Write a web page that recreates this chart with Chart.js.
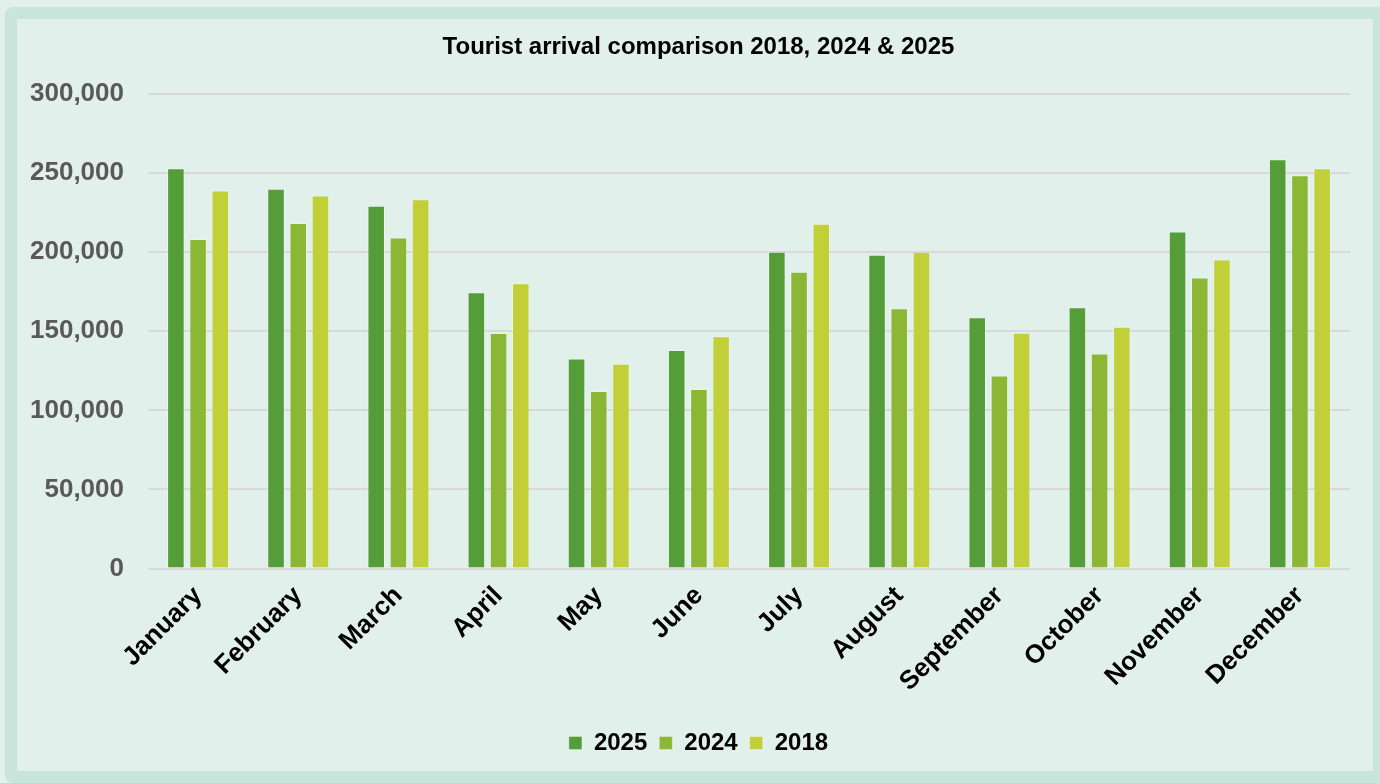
<!DOCTYPE html>
<html><head><meta charset="utf-8">
<script src="https://cdn.jsdelivr.net/npm/chart.js@4.4.1/dist/chart.umd.min.js"></script>
<style>
html,body{margin:0;padding:0;background:#e2f0eb;width:1380px;height:783px;overflow:hidden;}
#frame{position:absolute;left:5px;top:7px;width:1380px;height:776px;box-sizing:border-box;border:12px solid #c8e4db;border-radius:8px;}
#wrap{position:absolute;left:0;top:0;width:1380px;height:783px;}
</style></head><body>
<div id="frame"></div>
<div id="wrap"><canvas id="c" width="1380" height="783"></canvas></div>
<script>
const months = ['January','February','March','April','May','June','July','August','September','October','November','December'];
const seriesNames = ['2025','2024','2018'];
const v2025 = [253000,240100,229300,174700,132800,138100,200300,198400,158900,165200,213000,258700];
const v2024 = [208400,218500,209200,148900,112300,113500,187600,164600,122000,136000,184000,248600];
const v2018 = [239000,235900,233500,180400,129400,146800,217900,200300,149100,152900,195400,253000];
const yMin = 0, yMax = 300000, yStep = 50000;
const colors = ['#549d39','#8bb734','#c1cf39'];

Chart.defaults.font.family = "'Liberation Sans', Arial, sans-serif";
new Chart(document.getElementById('c'), {
  type: 'bar',
  data: {
    labels: months,
    datasets: [v2025, v2024, v2018].map((d, i) => ({
      label: seriesNames[i],
      data: d,
      backgroundColor: colors[i],
      borderColor: 'rgba(255,255,255,0.3)',
      borderWidth: 1,
      categoryPercentage: 0.665,
      barPercentage: 0.79
    }))
  },
  options: {
    responsive: false,
    animation: false,
    layout: { padding: { left: 17, right: 0, top: 0, bottom: 18 } },
    plugins: {
      title: {
        display: true,
        text: 'Tourist arrival comparison 2018, 2024 & 2025',
        color: '#000',
        font: { size: 24, weight: 'bold' },
        padding: { top: 33, bottom: 32.2 }
      },
      legend: {
        position: 'bottom',
        labels: {
          boxWidth: 13, boxHeight: 13, padding: 12,
          color: '#000',
          font: { size: 24, weight: 'bold' }
        }
      },
      tooltip: { enabled: false }
    },
    scales: {
      x: {
        grid: { display: false, drawTicks: false },
        border: { display: false },
        ticks: {
          color: '#000',
          font: { size: 26, weight: 'bold' },
          maxRotation: 45, minRotation: 45,
          padding: 12
        },
        afterFit: s => { s.height = 150.5; }
      },
      y: {
        min: yMin, max: yMax,
        grid: { color: '#d9d9d9', lineWidth: 2, drawTicks: false },
        border: { display: false },
        ticks: {
          stepSize: yStep,
          color: '#595959',
          font: { size: 26, weight: 'bold' },
          padding: 24,
          callback: v => v.toLocaleString('en-US')
        },
        afterFit: s => { s.width = 131; }
      },
      yRight: {
        position: 'right',
        display: true,
        grid: { display: false, drawTicks: false },
        border: { display: false },
        ticks: { display: false },
        afterFit: s => { s.width = 30; }
      }
    }
  }
});
</script>
</body></html>
